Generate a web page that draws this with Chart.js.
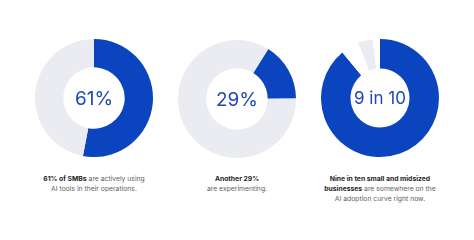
<!DOCTYPE html>
<html>
<head>
<meta charset="utf-8">
<script src="https://cdn.jsdelivr.net/npm/chart.js@4"></script>
<style>
  body { margin: 0; background: #fff; width: 474px; height: 240px; position: relative; overflow: hidden; font-family: "Inter", sans-serif; }
  .box { position: absolute; width: 118px; height: 118px; }
  .cap { position: absolute; width: 150px; text-align: center; font-size: 6.8px; line-height: 10px; color: #5f5f5f; }
  .cap b { color: #1e1e1e; font-weight: 700; }
</style>
</head>
<body>
<div class="box" style="left:35px;top:39px"><canvas id="donut1"></canvas></div>
<div class="box" style="left:178px;top:40px"><canvas id="donut2"></canvas></div>
<div class="box" style="left:321px;top:39px"><canvas id="donut3"></canvas></div>

<div class="cap" style="left:19px;top:174px"><b>61% of SMBs</b> are actively using<br>AI tools in their operations.</div>
<div class="cap" style="left:162px;top:174px"><b>Another 29%</b><br>are experimenting.</div>
<div class="cap" style="left:305px;top:174px"><b>Nine in ten small and midsized<br>businesses</b> are somewhere on the<br>AI adoption curve right now.</div>

<script>
// values as they are drawn in the picture
let centerLabels = ["61%", "29%", "9 in 10"];
let donut1Values = [53, 47];
let donut2Values = [16, 84];
let donut3Values = [89, 5, 4, 2];

let blue = "#0b44bf";
let gray = "#ebecf1";

let centerText = {
    id: "centerText",
    afterDraw(chart) {
        let c = chart.ctx;
        let a = chart.chartArea;
        let opt = chart.options.plugins.centerText;
        c.save();
        c.font = "400 " + opt.size + "px Inter";
        c.fillStyle = "#1f48b3";
        c.textAlign = "center";
        c.textBaseline = "middle";
        c.fillText(opt.text, (a.left + a.right) / 2, (a.top + a.bottom) / 2 + 1);
        c.restore();
    }
};

function makeDonut(id, values, colors, rotation, cutout, label, size) {
    return new Chart(document.getElementById(id).getContext("2d"), {
        type: "doughnut",
        data: {
            datasets: [{
                data: values,
                backgroundColor: colors,
                borderWidth: 0,
                hoverOffset: 0
            }]
        },
        options: {
            responsive: false,
            animation: false,
            events: [],
            rotation: rotation,
            cutout: cutout,
            plugins: {
                legend: { display: false },
                tooltip: { enabled: false },
                centerText: { text: label, size: size }
            }
        },
        plugins: [centerText]
    });
}

for (let id of ["donut1", "donut2", "donut3"]) {
    let cv = document.getElementById(id);
    cv.width = 118;
    cv.height = 118;
}

makeDonut("donut1", donut1Values, [blue, gray], 0, "52%", centerLabels[0], 19);
makeDonut("donut2", donut2Values, [blue, gray], 32, "52%", centerLabels[1], 19);
makeDonut("donut3", donut3Values, [blue, "#ffffff", gray, "#ffffff"], 0, "50%", centerLabels[2], 17);
</script>
</body>
</html>
